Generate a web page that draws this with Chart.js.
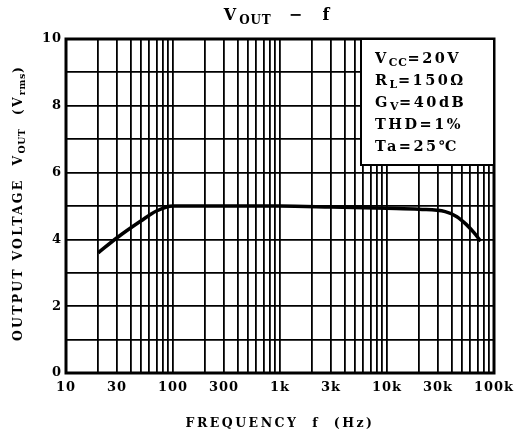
<!DOCTYPE html>
<html>
<head>
<meta charset="utf-8">
<script src="https://cdn.jsdelivr.net/npm/chart.js@4"></script>
<style>
  html, body { margin: 0; padding: 0; background: #fff; }
  #wrap { width: 526px; height: 438px; }
</style>
</head>
<body>
<div id="wrap"><canvas id="c" width="526" height="438"></canvas></div>
<script>
// values
const freqHz = [20, 30, 50, 70, 100, 300, 1000, 3000, 10000, 20000, 35000, 45000, 55000, 65000, 75000];
const voutVrms = [3.6, 4.05, 4.55, 4.85, 5.0, 5.0, 5.0, 4.97, 4.93, 4.9, 4.83, 4.68, 4.45, 4.2, 3.95];

const xLabels = { 10: '10', 30: '30', 100: '100', 300: '300', 1000: '1k', 3000: '3k', 10000: '10k', 30000: '30k', 100000: '100k' };
const conditions = [
    [['V', 0], ['CC', 1], ['=20V', 0]],
    [['R', 0], ['L', 1], ['=150Ω', 0]],
    [['G', 0], ['V', 1], ['=40dB', 0]],
    [['THD=1%', 0]],
    [['Ta=25℃', 0]]
];

const FONT = '"DejaVu Serif", serif';

function drawRich(ctx, parts, x, y, size, align, spacing) {
    // parts: [text, isSub]; subscripts are set tighter
    const setFont = p => {
        ctx.font = 'bold ' + (p[1] ? size * 0.75 : size) + 'px ' + FONT;
        ctx.letterSpacing = (p[1] ? spacing * 0.3 : spacing) + 'px';
    };
    let total = 0;
    parts.forEach(p => { setFont(p); total += ctx.measureText(p[0]).width; });
    let cx = align === 'center' ? x - total / 2 : x;
    parts.forEach(p => {
        setFont(p);
        ctx.fillText(p[0], cx, p[1] ? y + size * 0.3 : y);
        cx += ctx.measureText(p[0]).width;
    });
    ctx.letterSpacing = '0px';
}

const decor = {
    id: 'decor',
    beforeDraw(chart) {
        chart.ctx.letterSpacing = '1px';
    },
    afterDraw(chart) {
        const ctx = chart.ctx;
        const a = chart.chartArea;
        ctx.save();
        ctx.fillStyle = '#000';
        ctx.textBaseline = 'middle';
        ctx.textAlign = 'left';

        // title
        drawRich(ctx, [['V', 0], ['OUT', 1], ['  −  f', 0]], 278, 16, 16, 'center', 3);

        // frame
        ctx.strokeStyle = '#000';
        ctx.lineWidth = 3;
        ctx.strokeRect(a.left, a.top, a.right - a.left, a.bottom - a.top);

        // conditions box
        const bx = 361, by = a.top, bw = a.right - bx, bh = 126;
        ctx.fillStyle = '#fff';
        ctx.fillRect(bx, by + 1, bw - 1, bh);
        ctx.lineWidth = 2;
        ctx.strokeRect(bx, by, bw, bh);
        ctx.fillStyle = '#000';
        conditions.forEach((line, i) => {
            drawRich(ctx, line, 375, 59 + i * 22, 14.5, 'left', 2.5);
        });

        // y axis title
        ctx.save();
        ctx.translate(19, 203);
        ctx.rotate(-Math.PI / 2);
        drawRich(ctx, [['OUTPUT VOLTAGE  V', 0], ['OUT', 1], ['  (V', 0], ['rms', 1], [')', 0]], 0, 0, 12.5, 'center', 2.2);
        ctx.restore();

        // x axis title
        drawRich(ctx, [['FREQUENCY  f  (Hz)', 0]], 280, 424, 12.5, 'center', 2.5);
        ctx.restore();
    }
};

new Chart(document.getElementById('c'), {
    type: 'line',
    data: {
        datasets: [{
            data: freqHz.map((f, i) => ({ x: f, y: voutVrms[i] })),
            borderColor: '#000',
            borderWidth: 3.5,
            pointRadius: 0,
            cubicInterpolationMode: 'monotone',
            fill: false
        }]
    },
    options: {
        responsive: false,
        animation: false,
        layout: { padding: { top: 39, right: 32, left: 0, bottom: 0 } },
        plugins: { legend: { display: false }, tooltip: { enabled: false } },
        scales: {
            x: {
                type: 'logarithmic',
                min: 10,
                max: 100000,
                afterBuildTicks: s => {
                    const t = [];
                    for (let d = 10; d < 100000; d *= 10) {
                        for (let m = 1; m < 10; m++) t.push({ value: m * d });
                    }
                    t.push({ value: 100000 });
                    s.ticks = t;
                },
                afterFit: s => { s.height = 65; },
                grid: { color: '#000', lineWidth: 1.8, drawTicks: false },
                border: { display: false },
                ticks: {
                    autoSkip: false,
                    maxRotation: 0,
                    padding: 7,
                    color: '#000',
                    font: { family: FONT, size: 13, weight: 'bold' },
                    callback: v => xLabels[v] || ''
                }
            },
            y: {
                min: 0,
                max: 10,
                afterFit: s => { s.width = 66; },
                grid: { color: '#000', lineWidth: 1.8, drawTicks: false },
                border: { display: false },
                ticks: {
                    stepSize: 1,
                    padding: 4,
                    color: '#000',
                    font: { family: FONT, size: 13, weight: 'bold' },
                    callback: v => (v % 2 === 0 ? String(v) : '')
                }
            }
        }
    },
    plugins: [decor]
});
</script>
</body>
</html>
